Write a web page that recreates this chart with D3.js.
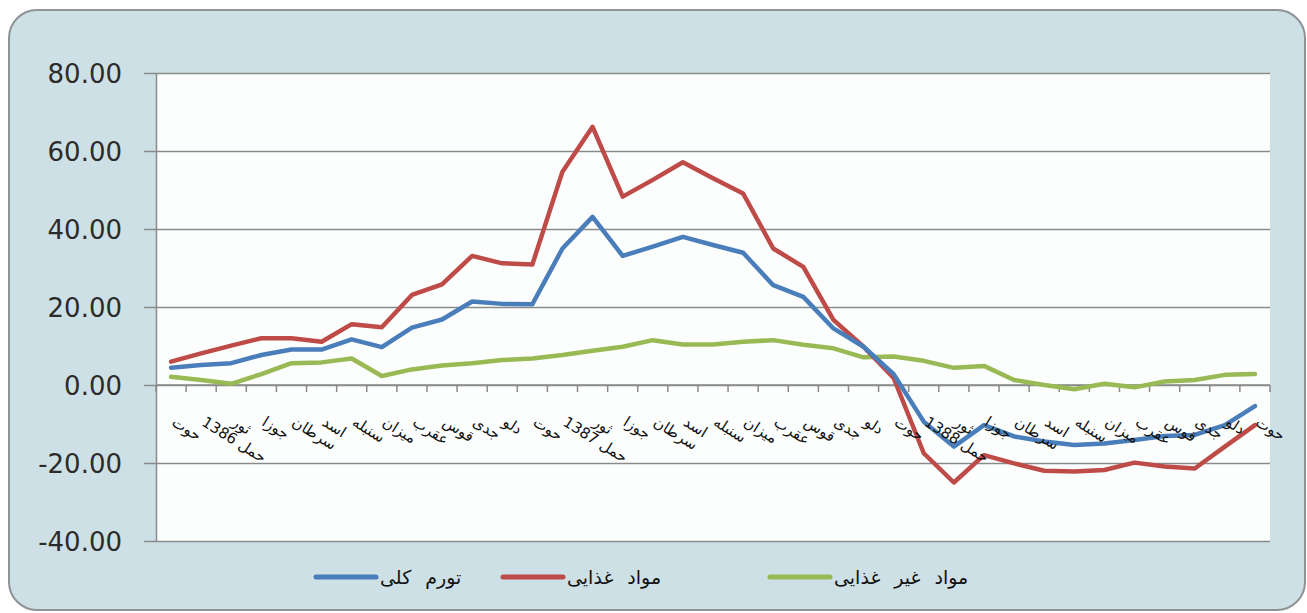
<!DOCTYPE html>
<html lang="fa">
    <head>
        <meta charset="utf-8">
        <title>تورم</title>
        <script type="text/javascript" src="https://d3js.org/d3.v7.min.js"></script>
        <style type="text/css">
            body { margin: 0; background: #ffffff; }
            .grid line { stroke: #8a8a8a; stroke-width: 1.5; }
            .ylab { font-family: "DejaVu Sans", sans-serif; font-size: 26px; fill: #2b2b2b; }
            .xlab { font-family: "DejaVu Sans", sans-serif; font-size: 15px; fill: #111; }
            .leg { font-family: "DejaVu Sans", sans-serif; font-size: 19px; fill: #111; word-spacing: 8px; }
        </style>
    </head>
    <body>
        <div id="chart"></div>
        <script type="text/javascript">
            // month labels (1385 حوت .. 1388 حوت)
            const categories = [
                "حوت", "حمل 1386", "ثور", "جوزا", "سرطان", "اسد", "سنبله", "میزان", "عقرب", "قوس", "جدی", "دلو", "حوت",
                "حمل 1387", "ثور", "جوزا", "سرطان", "اسد", "سنبله", "میزان", "عقرب", "قوس", "جدی", "دلو", "حوت",
                "حمل 1388", "ثور", "جوزا", "سرطان", "اسد", "سنبله", "میزان", "عقرب", "قوس", "جدی", "دلو", "حوت"
            ];
            const totalInflation = [
                4.4, 5.1, 5.6, 7.7, 9.1, 9.1, 11.7, 9.7, 14.7, 16.8, 21.4, 20.8, 20.7,
                35.0, 43.1, 33.1, 35.5, 38.0, 35.9, 33.9, 25.6, 22.6, 14.5, 9.8, 2.8,
                -9.4, -15.8, -10.3, -13.2, -14.5, -15.4, -15.0, -14.1, -13.1, -12.8, -10.3, -5.4
            ];
            const foodInflation = [
                6.0, 8.1, 10.1, 12.0, 12.0, 11.1, 15.6, 14.8, 23.1, 25.8, 33.1, 31.2, 30.9,
                54.7, 66.2, 48.3, 52.6, 57.1, 53.0, 49.1, 35.0, 30.3, 16.7, 9.8, 1.8,
                -17.5, -25.0, -18.0, -20.1, -22.0, -22.2, -21.8, -19.9, -20.9, -21.4, -15.8, -10.3
            ];
            const nonFoodInflation = [
                2.1, 1.3, 0.3, 2.8, 5.6, 5.8, 6.8, 2.3, 4.0, 5.0, 5.6, 6.4, 6.8,
                7.7, 8.8, 9.8, 11.5, 10.4, 10.4, 11.1, 11.5, 10.3, 9.4, 7.1, 7.3,
                6.2, 4.4, 4.9, 1.3, 0.0, -1.1, 0.3, -0.6, 0.9, 1.3, 2.6, 2.8
            ];
            const yTicks = [-40, -20, 0, 20, 40, 60, 80];
            const seriesNames = ["تورم کلی", "مواد غذایی", "مواد غیر غذایی"];
            const seriesColors = ["#4a7ebb", "#be4b48", "#98b954"];

            const W = 1307, H = 613;
            const plot = {left: 156, right: 1270, top: 73, bottom: 541};

            const svg = d3.select("#chart").append("svg")
                .attr("width", W)
                .attr("height", H);

            // outer rounded frame
            svg.append("rect")
                .attr("x", 9).attr("y", 10)
                .attr("width", 1296).attr("height", 600)
                .attr("rx", 28).attr("ry", 28)
                .attr("fill", "#cde0e5")
                .attr("stroke", "#8e9396")
                .attr("stroke-width", 2);

            svg.append("rect")
                .attr("x", plot.left).attr("y", plot.top)
                .attr("width", plot.right - plot.left)
                .attr("height", plot.bottom - plot.top)
                .attr("fill", "#fcfefe");

            let xScale = d3.scaleBand()
                .domain(d3.range(categories.length))
                .range([plot.left, plot.right])
                .paddingInner(0).paddingOuter(0);
            let yScale = d3.scaleLinear()
                .domain([-40, 80])
                .range([plot.bottom, plot.top]);
            let cx = i => xScale(i) + xScale.bandwidth() / 2;

            // horizontal gridlines + y ticks
            const yAxis = d3.axisLeft(yScale)
                .tickValues(yTicks)
                .tickSize(-(plot.right - plot.left))
                .tickSizeOuter(0)
                .tickFormat(d => d.toFixed(2));
            const gy = svg.append("g")
                .attr("class", "grid")
                .attr("transform", "translate(" + plot.left + ",0)")
                .call(yAxis);
            gy.select(".domain").attr("stroke", "#8a8a8a").attr("stroke-width", 1.5);
            gy.selectAll(".tick line").attr("x1", -12);
            gy.selectAll(".tick text")
                .attr("class", "ylab")
                .attr("x", -34)
                .attr("dy", "0.36em")
                .attr("font-size", null)
                .attr("font-family", null)
                .attr("fill", null);

            // x axis at zero with ticks on category boundaries
            const gx = svg.append("g");
            gx.append("line")
                .attr("x1", plot.left).attr("x2", plot.right)
                .attr("y1", yScale(0)).attr("y2", yScale(0))
                .attr("stroke", "#8a8a8a").attr("stroke-width", 1.5);
            gx.selectAll("line.tk")
                .data(d3.range(categories.length + 1))
                .enter().append("line")
                .attr("class", "tk")
                .attr("x1", d => plot.left + d * xScale.bandwidth())
                .attr("x2", d => plot.left + d * xScale.bandwidth())
                .attr("y1", yScale(0)).attr("y2", yScale(0) + 7)
                .attr("stroke", "#8a8a8a").attr("stroke-width", 1.5);

            // lines
            const allSeries = [totalInflation, foodInflation, nonFoodInflation];
            const line = d3.line()
                .x((d, i) => cx(i))
                .y(d => yScale(d));
            // draw green first, red, blue on top like the reference
            [2, 1, 0].forEach(k => {
                svg.append("path")
                    .datum(allSeries[k])
                    .attr("fill", "none")
                    .attr("stroke", seriesColors[k])
                    .attr("stroke-width", 4.5)
                    .attr("stroke-linejoin", "round")
                    .attr("stroke-linecap", "round")
                    .attr("d", line);
            });

            // category labels sit above the lines
            svg.append("g").selectAll("text")
                .data(categories)
                .enter().append("text")
                .attr("class", "xlab")
                .attr("transform", (d, i) => "translate(" + (cx(i) + 2) + "," + (yScale(0) + 36) + ") rotate(32)")
                .attr("text-anchor", "start")
                .attr("dominant-baseline", "middle")
                .text(d => d);

            // legend
            const legendX = [316, 503, 770];
            const leg = svg.append("g");
            seriesNames.forEach((name, k) => {
                leg.append("line")
                    .attr("x1", legendX[k]).attr("x2", legendX[k] + 60)
                    .attr("y1", 577).attr("y2", 577)
                    .attr("stroke", seriesColors[k])
                    .attr("stroke-width", 5)
                    .attr("stroke-linecap", "round");
                leg.append("text")
                    .attr("class", "leg")
                    .attr("x", legendX[k] + 64)
                    .attr("y", 577)
                    .attr("dy", "0.35em")
                    .attr("text-anchor", "start")
                    .text(name);
            });
        </script>
    </body>
</html>
